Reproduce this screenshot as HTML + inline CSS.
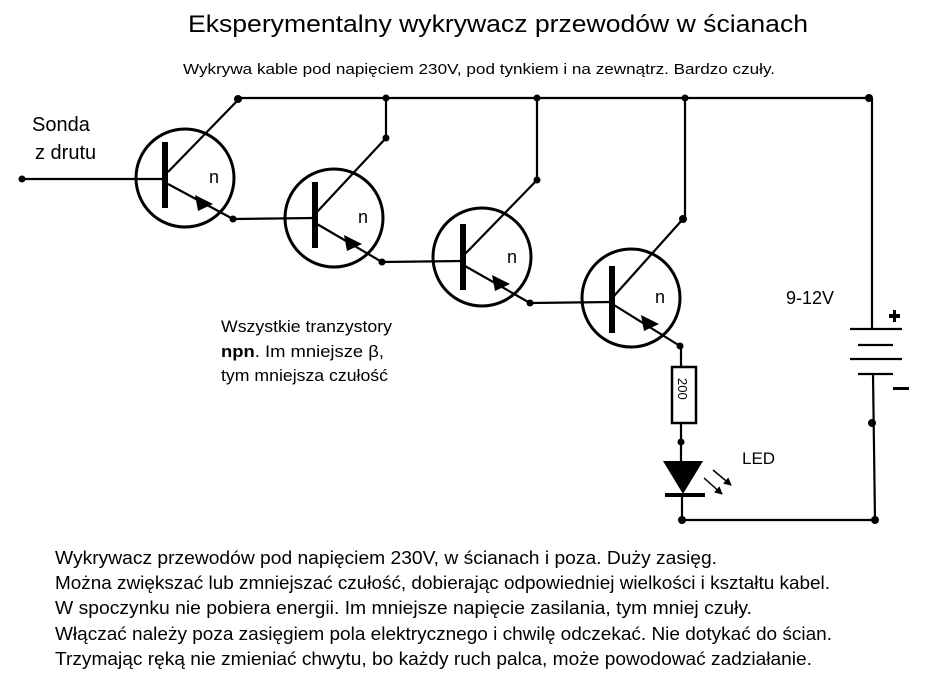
<!DOCTYPE html>
<html><head><meta charset="utf-8"><style>
html,body{margin:0;padding:0;background:#fff;}
svg{display:block;}
text{font-family:"Liberation Sans",sans-serif;fill:#000;}
</style></head><body>
<svg width="925" height="682" viewBox="0 0 925 682" xmlns="http://www.w3.org/2000/svg">
<defs><marker id="a" markerWidth="8" markerHeight="8" refX="7" refY="4" orient="auto" markerUnits="userSpaceOnUse"><path d="M0,0 L8,4 L0,8 z" fill="#000"/></marker></defs>
<text x="188" y="32" font-size="24" textLength="620" lengthAdjust="spacingAndGlyphs">Eksperymentalny  wykrywacz  przewodów  w  ścianach</text>
<text x="183" y="74" font-size="15" textLength="592" lengthAdjust="spacingAndGlyphs">Wykrywa kable pod napięciem 230V, pod tynkiem i na zewnątrz. Bardzo czuły.</text>
<g stroke="#000" stroke-width="2.2" fill="none">
<line x1="238" y1="98" x2="872" y2="98"/>
<line x1="386" y1="98" x2="386" y2="138"/>
<line x1="537" y1="98" x2="537" y2="180"/>
<line x1="685" y1="98" x2="685" y2="219"/>
<line x1="872" y1="98" x2="872" y2="329"/>
<line x1="873" y1="374" x2="875" y2="520"/>
<line x1="682" y1="520" x2="875" y2="520"/>
<circle cx="185" cy="178" r="49" stroke-width="3"/>
<line x1="22" y1="179" x2="165" y2="179"/>
<line x1="168" y1="172" x2="238" y2="100"/>
<line x1="168" y1="184" x2="233" y2="219"/>
<circle cx="334" cy="218" r="49" stroke-width="3"/>
<line x1="233" y1="219" x2="315" y2="218"/>
<line x1="317" y1="212" x2="386" y2="138"/>
<line x1="317" y1="224" x2="382" y2="262"/>
<circle cx="482" cy="257" r="49" stroke-width="3"/>
<line x1="382" y1="262" x2="463" y2="261"/>
<line x1="465" y1="254" x2="537" y2="180"/>
<line x1="465" y1="266" x2="530" y2="303"/>
<circle cx="631" cy="298" r="49" stroke-width="3"/>
<line x1="530" y1="303" x2="612" y2="302"/>
<line x1="614" y1="296" x2="683" y2="219"/>
<line x1="614" y1="305" x2="680" y2="346"/>
<line x1="681" y1="346" x2="681" y2="367"/>
<rect x="672" y="367" width="24" height="56" stroke-width="2.5"/>
<line x1="681" y1="423" x2="681" y2="462"/>
<line x1="682" y1="495" x2="682" y2="520"/>
<line x1="713" y1="470" x2="731" y2="485" marker-end="url(#a)" stroke-width="1.5"/>
<line x1="704" y1="478" x2="722" y2="494" marker-end="url(#a)" stroke-width="1.5"/>
<line x1="850" y1="329" x2="902" y2="329"/>
<line x1="858" y1="345" x2="893" y2="345"/>
<line x1="850" y1="359" x2="902" y2="359"/>
<line x1="858" y1="374" x2="893" y2="374"/>
</g>
<g fill="#000">
<rect x="162" y="142" width="6" height="66"/>
<rect x="312" y="182" width="6" height="66"/>
<rect x="460" y="224" width="6" height="66"/>
<rect x="609" y="266" width="6" height="67"/>
<path d="M195,195 L213,204 L198,211 z"/>
<path d="M344,235 L362,244 L347,251 z"/>
<path d="M492,275 L510,284 L495,291 z"/>
<path d="M641,315 L659,324 L644,331 z"/>
<path d="M663,461 L703,461 L683,494 z"/>
<rect x="665" y="493" width="40" height="4"/>
<rect x="893" y="310" width="3" height="12"/><rect x="889" y="314" width="11" height="4"/>
<rect x="893" y="387" width="16" height="3"/>
<circle cx="22" cy="179" r="3.5"/>
<circle cx="238" cy="99" r="4"/><circle cx="386" cy="98" r="3.5"/><circle cx="537" cy="98" r="3.5"/>
<circle cx="685" cy="98" r="3.5"/><circle cx="869" cy="98" r="4"/>
<circle cx="386" cy="138" r="3.5"/><circle cx="537" cy="180" r="3.5"/><circle cx="683" cy="219" r="4"/>
<circle cx="233" cy="219" r="3.5"/><circle cx="382" cy="262" r="3.5"/><circle cx="530" cy="303" r="3.5"/>
<circle cx="680" cy="346" r="3.5"/><circle cx="681" cy="442" r="3.5"/><circle cx="682" cy="520" r="4"/>
<circle cx="872" cy="423" r="4"/><circle cx="875" cy="520" r="4"/>
</g>
<text x="32" y="131" font-size="20">Sonda</text>
<text x="35" y="159" font-size="20">z drutu</text>
<text x="209" y="183" font-size="18">n</text>
<text x="358" y="223" font-size="18">n</text>
<text x="507" y="263" font-size="18">n</text>
<text x="655" y="303" font-size="18">n</text>
<text x="0" y="0" font-size="13" transform="translate(678,378) rotate(90)">200</text>
<text x="742" y="464" font-size="17">LED</text>
<text x="786" y="304" font-size="18">9-12V</text>
<text x="221" y="332" font-size="17" textLength="171" lengthAdjust="spacingAndGlyphs">Wszystkie tranzystory</text>
<text x="221" y="357" font-size="17" textLength="163" lengthAdjust="spacingAndGlyphs"><tspan font-weight="bold">npn</tspan>. Im mniejsze β,</text>
<text x="221" y="381" font-size="17" textLength="167" lengthAdjust="spacingAndGlyphs">tym mniejsza czułość</text>
<g font-size="18">
<text x="55" y="564" textLength="662" lengthAdjust="spacingAndGlyphs">Wykrywacz przewodów pod napięciem 230V, w ścianach i poza. Duży zasięg.</text>
<text x="55" y="589" textLength="775" lengthAdjust="spacingAndGlyphs">Można zwiększać lub zmniejszać czułość, dobierając odpowiedniej wielkości i kształtu kabel.</text>
<text x="55" y="614" textLength="697" lengthAdjust="spacingAndGlyphs">W spoczynku nie pobiera energii. Im mniejsze napięcie zasilania, tym mniej czuły.</text>
<text x="55" y="640" textLength="777" lengthAdjust="spacingAndGlyphs">Włączać należy poza zasięgiem pola elektrycznego i chwilę odczekać. Nie dotykać do ścian.</text>
<text x="55" y="665" textLength="757" lengthAdjust="spacingAndGlyphs">Trzymając ręką nie zmieniać chwytu, bo każdy ruch palca, może powodować zadziałanie.</text>
</g>
</svg>
</body></html>
